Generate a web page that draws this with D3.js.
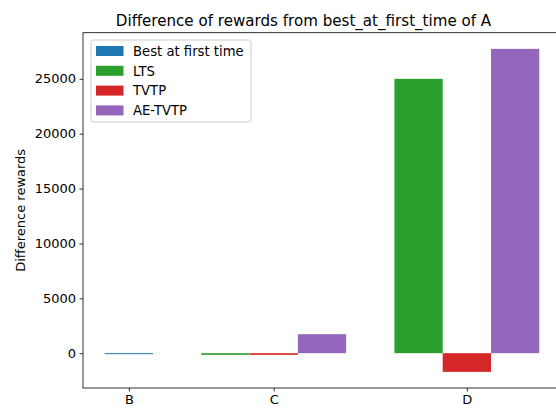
<!DOCTYPE html>
<html>
<head>
<meta charset="utf-8">
<script src="https://cdn.jsdelivr.net/npm/d3@7"></script>
<style>
  body { margin: 0; background: #fff; }
  text { font-family: "DejaVu Sans", sans-serif; fill: #000; }
</style>
</head>
<body>
<div id="chart"></div>
<script>
// data
var categories = ["B", "C", "D"];
var seriesNames = ["Best at first time", "LTS", "TVTP", "AE-TVTP"];
var seriesColors = ["#1f77b4", "#2ca02c", "#d62728", "#9467bd"];
// one value per category, null = no bar for that category
var bestValues = [-60, null, null];
var ltsValues = [null, -150, 25000];
var tvtpValues = [null, -150, -1700];
var aeTvtpValues = [null, 1730, 27730];
var yTicks = [0, 5000, 10000, 15000, 20000, 25000];

var W = 556, H = 410;
var margin = {top: 32.7, left: 83, bottom: 388, right: 561};

var allSeries = [bestValues, ltsValues, tvtpValues, aeTvtpValues];

//lay the bars out side by side, skipping missing ones, one slot gap between groups
var bars = [];
var tickPos = [];
var slot = 1;
categories.forEach(function(c, k) {
  var first = slot;
  allSeries.forEach(function(vals, s) {
    if (vals[k] === null) return;
    bars.push({cat: c, series: s, value: vals[k], pos: slot});
    slot++;
  });
  tickPos.push((first + slot - 1) / 2);
  slot++;
});

var xMin = d3.min(bars, function(d) { return d.pos; }) - 0.5;
var xMax = d3.max(bars, function(d) { return d.pos; }) + 0.5;
var xPad = (xMax - xMin) * 0.05;
var x = d3.scaleLinear()
  .domain([xMin - xPad, xMax + xPad])
  .range([margin.left, margin.right]);

var yLo = Math.min(0, d3.min(bars, function(d) { return d.value; }));
var yHi = Math.max(0, d3.max(bars, function(d) { return d.value; }));
var yPad = (yHi - yLo) * 0.05;
var y = d3.scaleLinear()
  .domain([yLo - yPad, yHi + yPad])
  .range([margin.bottom, margin.top]);

var svg = d3.select("#chart").append("svg")
  .attr("width", W)
  .attr("height", H);

//bars
svg.append("g").attr("class", "bars")
  .selectAll("rect")
  .data(bars)
  .enter()
  .append("rect")
  .attr("x", function(d) { return x(d.pos - 0.5); })
  .attr("width", function(d) { return x(d.pos + 0.5) - x(d.pos - 0.5); })
  .attr("y", function(d) { return y(Math.max(0, d.value)); })
  .attr("height", function(d) { return Math.max(1, Math.abs(y(d.value) - y(0))); })
  .attr("fill", function(d) { return seriesColors[d.series]; });

//axes
var yAxis = d3.axisLeft(y)
  .tickValues(yTicks)
  .tickSize(3.5)
  .tickPadding(3.5)
  .tickFormat(d3.format("d"));

var gy = svg.append("g")
  .attr("transform", "translate(" + margin.left + ",0)")
  .call(yAxis);

var xAxis = d3.axisBottom(x)
  .tickValues(tickPos)
  .tickSize(3.5)
  .tickPadding(3.5)
  .tickFormat(function(d, i) { return categories[i]; });

var gx = svg.append("g")
  .attr("transform", "translate(0," + margin.bottom + ")")
  .call(xAxis);

[gx, gy].forEach(function(g) {
  g.select(".domain").remove();
  g.selectAll("line").attr("stroke", "#000").attr("stroke-width", 0.8);
  g.selectAll("text")
    .attr("font-size", 13)
    .attr("font-family", "DejaVu Sans, sans-serif")
    .attr("fill", "#000");
});

//spines
svg.append("rect")
  .attr("x", margin.left)
  .attr("y", margin.top)
  .attr("width", margin.right - margin.left)
  .attr("height", margin.bottom - margin.top)
  .attr("fill", "none")
  .attr("stroke", "#000")
  .attr("stroke-width", 0.8);

//title and y label
svg.append("text")
  .attr("x", 303.5)
  .attr("y", 25.5)
  .attr("text-anchor", "middle")
  .attr("font-size", 15.1)
  .text("Difference of rewards from best_at_first_time of A");

svg.append("text")
  .attr("transform", "translate(25," + ((margin.top + margin.bottom) / 2) + ") rotate(-90)")
  .attr("text-anchor", "middle")
  .attr("font-size", 13)
  .text("Difference rewards");

//legend
var legend = svg.append("g").attr("class", "legend");
legend.append("rect")
  .attr("x", 91)
  .attr("y", 40)
  .attr("width", 160)
  .attr("height", 82)
  .attr("rx", 2.5)
  .attr("fill", "#fff")
  .attr("fill-opacity", 0.8)
  .attr("stroke", "#cccccc")
  .attr("stroke-width", 1);

var items = legend.selectAll("g.item")
  .data(seriesNames)
  .enter()
  .append("g")
  .attr("class", "item")
  .attr("transform", function(d, i) { return "translate(96," + (51 + i * 19.8) + ")"; });

items.append("rect")
  .attr("x", 0)
  .attr("y", -5)
  .attr("width", 27.5)
  .attr("height", 10)
  .attr("fill", function(d, i) { return seriesColors[i]; });

items.append("text")
  .attr("x", 37)
  .attr("y", 4.7)
  .attr("font-size", 13.2)
  .text(function(d) { return d; });
</script>
</body>
</html>
